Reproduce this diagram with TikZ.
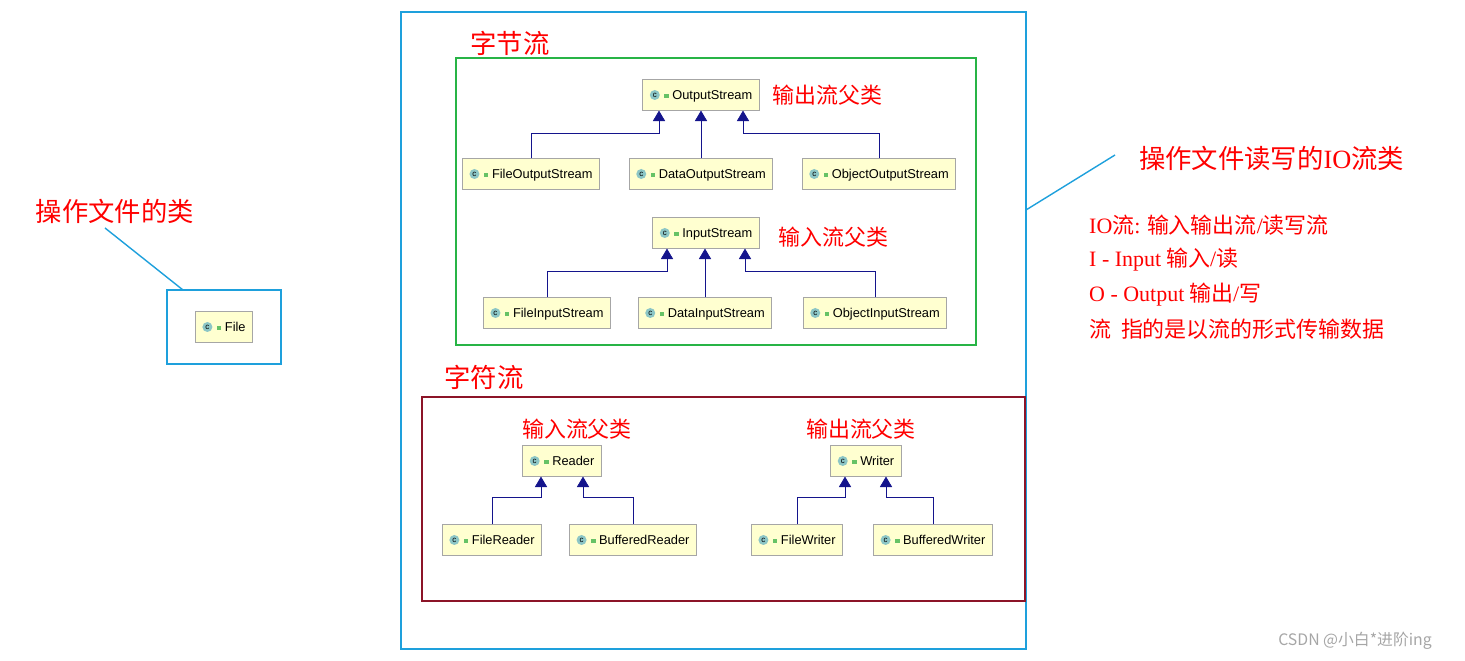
\documentclass[tikz,border=0pt]{standalone}
\usepackage{fontspec}
\setmainfont{Liberation Serif}
\newfontfamily\cjk{Noto Sans CJK SC}
\newfontfamily\sans{Liberation Sans}
\newcommand{\lat}[1]{{\rmfamily #1}}
\usetikzlibrary{arrows.meta}
\definecolor{clsfill}{RGB}{255,255,208}
\definecolor{frameblue}{RGB}{30,160,220}
\definecolor{framegreen}{RGB}{40,180,70}
\definecolor{framered}{RGB}{140,20,40}
\definecolor{arrowblue}{RGB}{20,20,140}
\newcommand{\clsicon}{\tikz[baseline=-0.6ex,x=1cm,y=1cm]{\fill[teal!45] (0,0) circle (0.1);\node[font=\sans\fontsize{4.5}{4.5}\selectfont,inner sep=0] at (0,0) {c};\fill[green!60!black!60] (0.19,-0.07) rectangle (0.28,0.01);}}
\tikzset{
  cls/.style={draw=gray!70,fill=clsfill,minimum height=0.54cm,inner ysep=1pt,inner xsep=4pt,font=\sans\fontsize{7.3}{8}\selectfont},
  inh/.style={draw=arrowblue,thin,-{Triangle[length=6pt,width=7pt]}},
  lbl/.style={text=red,font=\cjk\fontsize{12.5}{14}\selectfont},
  ttl/.style={text=red,font=\cjk\fontsize{15}{17}\selectfont},
}
\begin{document}
\begin{tikzpicture}[x=0.02cm,y=-0.02cm]
\useasboundingbox (0,0) rectangle (1465,661);
% frames
\draw[frameblue,line width=1.2pt] (401,12) rectangle (1026,649);
\draw[framegreen,line width=1.2pt] (456,58) rectangle (976,345);
\draw[framered,line width=1.2pt] (422,397) rectangle (1025,601);
\draw[frameblue,line width=1.2pt] (167,290) rectangle (281,364);
% titles
\node[ttl] (t1) at (510,43) {字节流};
\node[ttl] (t2) at (484,377) {字符流};
\node[ttl] (t3) at (115,211) {操作文件的类};
\node[ttl,anchor=west] (t4) at (1133,158) {操作文件读写的\lat{IO}流类};
\coordinate (c1) at (105,228); \coordinate (c2) at (183,290);
\draw[frameblue,thick] (c1) -- (c2);
\coordinate (c3) at (1026,210); \coordinate (c4) at (1115,155);
\draw[frameblue,thick] (c3) -- (c4);
% description
\node[lbl,anchor=west] (d1) at (1083,225) {\lat{IO}流\lat{:} 输入输出流\lat{/}读写流};
\node[lbl,anchor=west] (d2) at (1083,260) {\lat{I - Input} 输入\lat{/}读};
\node[lbl,anchor=west] (d3) at (1083,295) {\lat{O - Output} 输出\lat{/}写};
\node[lbl,anchor=west] (d4) at (1083,329) {流\ \ 指的是以流的形式传输数据};
% classes
\node[cls] (file) at (224,327) {\clsicon\ File};
\node[cls] (os) at (701,95) {\clsicon\ OutputStream};
\node[lbl,anchor=west] (l1) at (766,95) {输出流父类};
\node[cls] (fos) at (531,174) {\clsicon\ FileOutputStream};
\node[cls] (dos) at (701,174) {\clsicon\ DataOutputStream};
\node[cls] (oos) at (879,174) {\clsicon\ ObjectOutputStream};
\node[cls] (is) at (706,233) {\clsicon\ InputStream};
\node[lbl,anchor=west] (l2) at (772,237) {输入流父类};
\node[cls] (fis) at (547,313) {\clsicon\ FileInputStream};
\node[cls] (dis) at (705,313) {\clsicon\ DataInputStream};
\node[cls] (ois) at (875,313) {\clsicon\ ObjectInputStream};
\node[cls] (rd) at (562,461) {\clsicon\ Reader};
\node[lbl] (l3) at (577,429) {输入流父类};
\node[cls] (frd) at (492,540) {\clsicon\ FileReader};
\node[cls] (brd) at (633,540) {\clsicon\ BufferedReader};
\node[cls] (wr) at (866,461) {\clsicon\ Writer};
\node[lbl] (l4) at (861,429) {输出流父类};
\node[cls] (fwr) at (797,540) {\clsicon\ FileWriter};
\node[cls] (bwr) at (933,540) {\clsicon\ BufferedWriter};
% inheritance
\draw[inh] (fos.north) -- (fos.north |- 0,133) -| ([xshift=-42*0.02cm]os.south);
\draw[inh] (dos.north) -- (os.south);
\draw[inh] (oos.north) -- (oos.north |- 0,133) -| ([xshift=42*0.02cm]os.south);
\draw[inh] (fis.north) -- (fis.north |- 0,271) -| ([xshift=-39*0.02cm]is.south);
\draw[inh] (dis.north) -- (dis.north |- is.south);
\draw[inh] (ois.north) -- (ois.north |- 0,271) -| ([xshift=39*0.02cm]is.south);
\draw[inh] (frd.north) -- (frd.north |- 0,497) -| ([xshift=-21*0.02cm]rd.south);
\draw[inh] (brd.north) -- (brd.north |- 0,497) -| ([xshift=21*0.02cm]rd.south);
\draw[inh] (fwr.north) -- (fwr.north |- 0,497) -| ([xshift=-21*0.02cm]wr.south);
\draw[inh] (bwr.north) -- (bwr.north |- 0,497) -| ([xshift=20*0.02cm]wr.south);
% watermark
\node[text=gray!70,font=\cjk\fontsize{9}{10}\selectfont] (wm) at (1355,641) {CSDN @小白*进阶ing};
\end{tikzpicture}
\end{document}
